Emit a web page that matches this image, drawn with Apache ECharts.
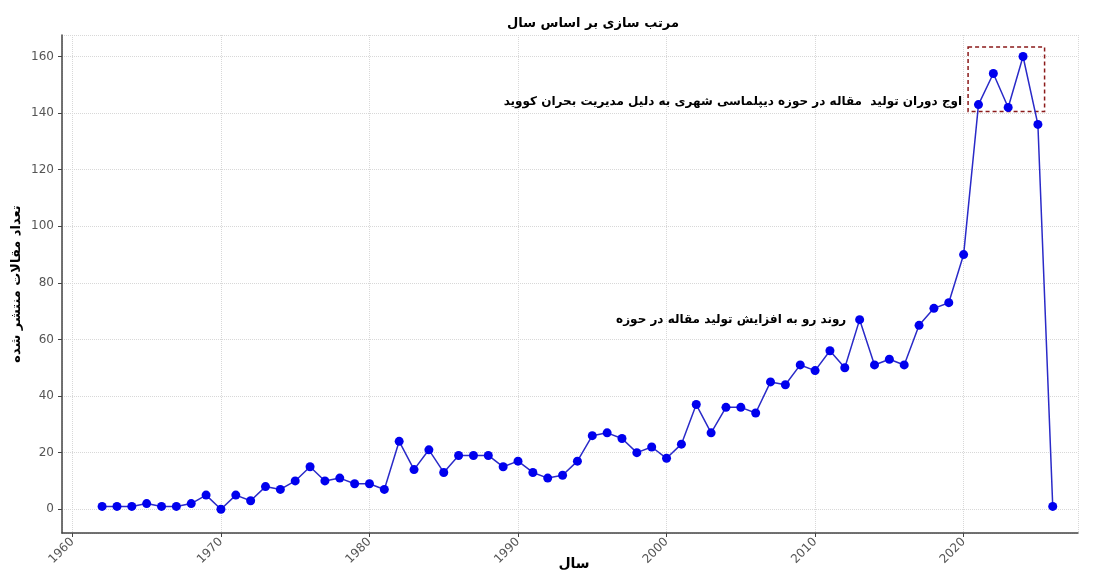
<!DOCTYPE html>
<html>
<head>
<meta charset="utf-8">
<script src="https://cdn.jsdelivr.net/npm/echarts@6/dist/echarts.min.js"></script>
<style>
  html, body { margin: 0; padding: 0; background: #fff; }
  #chart { width: 1093px; height: 572px; }
</style>
</head>
<body>
<div id="chart"></div>
<script>
// سال‌ها و تعداد مقالات
const years = [
  1962, 1963, 1964, 1965, 1966, 1967, 1968, 1969, 1970, 1971,
  1972, 1973, 1974, 1975, 1976, 1977, 1978, 1979, 1980, 1981,
  1982, 1983, 1984, 1985, 1986, 1987, 1988, 1989, 1990, 1991,
  1992, 1993, 1994, 1995, 1996, 1997, 1998, 1999, 2000, 2001,
  2002, 2003, 2004, 2005, 2006, 2007, 2008, 2009, 2010, 2011,
  2012, 2013, 2014, 2015, 2016, 2017, 2018, 2019, 2020, 2021,
  2022, 2023, 2024, 2025, 2026
];
const counts = [
  1, 1, 1, 2, 1, 1, 2, 5, 0, 5,
  3, 8, 7, 10, 15, 10, 11, 9, 9, 7,
  24, 14, 21, 13, 19, 19, 19, 15, 17, 13,
  11, 12, 17, 26, 27, 25, 20, 22, 18, 23,
  37, 27, 36, 36, 34, 45, 44, 51, 49, 56,
  50, 67, 51, 53, 51, 65, 71, 73, 90, 143,
  154, 142, 160, 136, 1
];

// متن‌ها
const titleText = 'مرتب سازی بر اساس سال';
const xName = 'سال';
const yName = 'تعداد مقالات منتشر شده';
const peakNote = 'اوج دوران تولید  مقاله در حوزه دیپلماسی شهری به دلیل مدیریت بحران کووید';
const trendNote = 'روند رو به افزایش تولید مقاله در حوزه';

// محل یادداشت‌ها و کادر
const peakNoteAt = [2019.9, 144];
const trendNoteAt = [2012.1, 67];
const peakBox = [[2020.3, 163.4], [2025.45, 140.6]];

const FONT = 'DejaVu Sans';

const chart = echarts.init(document.getElementById('chart'));

const option = {
  backgroundColor: '#fff',
  animation: false,
  title: {
    text: titleText,
    left: 588,
    top: 12,
    textAlign: 'center',
    textStyle: { fontFamily: FONT, fontSize: 13, fontWeight: 'bold', color: '#000' }
  },
  grid: { left: 62, right: 15, top: 35, bottom: 39, outerBoundsMode: 'none' },
  xAxis: {
    type: 'value',
    min: 1959.3,
    max: 2027.7,
    splitNumber: 7,
    name: xName,
    nameLocation: 'middle',
    nameGap: 24,
    nameMoveOverlap: false,
    nameTextStyle: { fontFamily: FONT, fontSize: 14, fontWeight: 'bold', color: '#000', padding: [0, 0, 0, 8] },
    axisLine: { onZero: false, lineStyle: { color: '#444', width: 1.5 } },
    axisTick: { show: true, length: 4, lineStyle: { color: '#444' } },
    axisLabel: {
      rotate: 45,
      color: '#555',
      fontFamily: FONT,
      fontSize: 12,
      margin: 7,
      showMinLabel: false,
      showMaxLabel: false,
      formatter: v => String(v)
    },
    splitLine: { show: true, lineStyle: { color: '#d8d8d8', type: 'dotted', width: 1 } }
  },
  yAxis: {
    type: 'value',
    min: -8.4,
    max: 167.6,
    splitNumber: 9,
    name: yName,
    nameLocation: 'middle',
    nameGap: 39,
    nameRotate: 90,
    nameMoveOverlap: false,
    nameTextStyle: { fontFamily: FONT, fontSize: 13, fontWeight: 'bold', color: '#000' },
    axisLine: { show: true, onZero: false, lineStyle: { color: '#444', width: 1.5 } },
    axisTick: { show: true, length: 4, lineStyle: { color: '#444' } },
    axisLabel: {
      color: '#555',
      fontFamily: FONT,
      fontSize: 12,
      margin: 8,
      showMinLabel: false,
      showMaxLabel: false
    },
    splitLine: { show: true, lineStyle: { color: '#d8d8d8', type: 'dotted', width: 1 } }
  },
  series: [
    {
      type: 'line',
      data: years.map((y, i) => [y, counts[i]]),
      symbol: 'circle',
      symbolSize: 9,
      lineStyle: { color: '#2a2ac8', width: 1.5 },
      itemStyle: { color: '#0000ee' },
      markArea: {
        silent: true,
        itemStyle: {
          color: 'rgba(0,0,0,0)',
          borderColor: '#8b1a1a',
          borderWidth: 1.5,
          borderType: [4, 3]
        },
        data: [[{ coord: peakBox[0] }, { coord: peakBox[1] }]]
      },
      markPoint: {
        silent: true,
        symbol: 'circle',
        symbolSize: 0,
        label: {
          show: true,
          position: 'left',
          distance: 0,
          fontFamily: FONT,
          fontSize: 12,
          fontWeight: 'bold',
          color: '#000'
        },
        data: [
          { coord: peakNoteAt, label: { formatter: peakNote } },
          { coord: trendNoteAt, label: { formatter: trendNote } }
        ]
      }
    }
  ]
};

chart.setOption(option);
</script>
</body>
</html>
